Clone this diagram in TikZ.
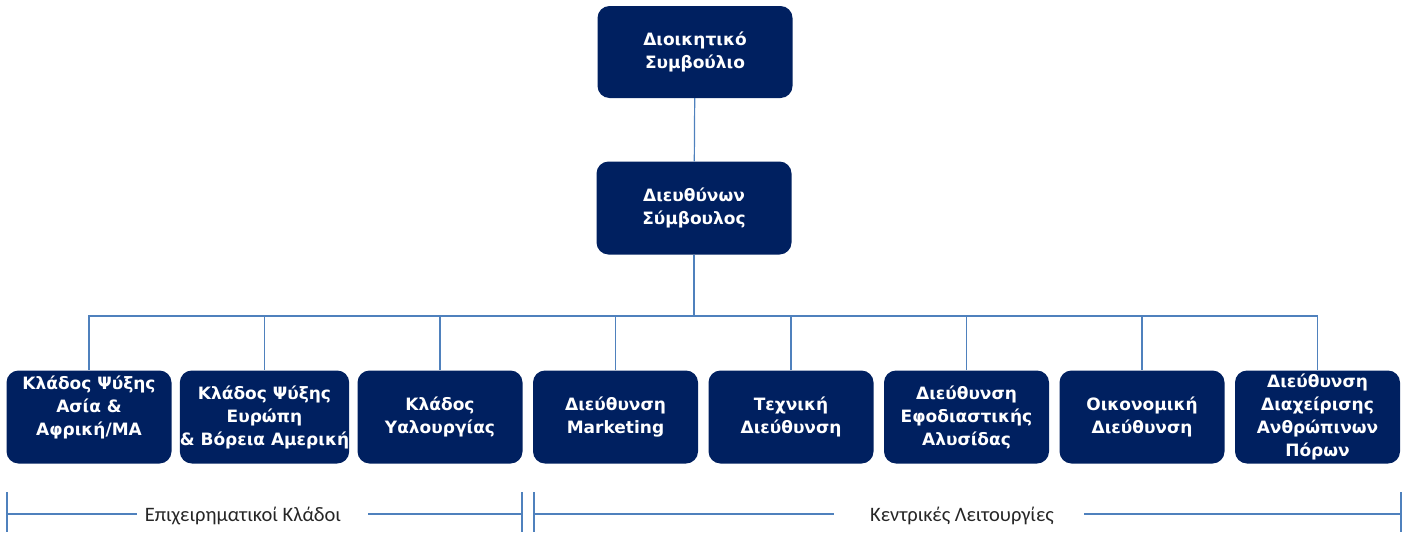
\documentclass[tikz,border=0pt]{standalone}
\usepackage{fontspec}
\setmainfont{DejaVu Sans}
\newfontfamily\calfont{Carlito}
\usetikzlibrary{positioning}
\definecolor{navy}{RGB}{0,32,96}
\definecolor{linkblue}{RGB}{79,129,189}

\begin{document}
\begin{tikzpicture}[x=1pt, y=-1pt, node distance=175.5pt, font=\bfseries\fontsize{17}{23}\selectfont]
  \tikzstyle{block} = [rectangle, rounded corners=12pt, fill=navy, text=white, minimum width=165pt, minimum height=93pt, inner sep=0pt, align=center]
  \tikzstyle{link} = [draw=linkblue, line width=1.2pt]
  \tikzstyle{group} = [font=\calfont\mdseries\fontsize{20.5}{22}\selectfont, text=black!85, inner xsep=8pt]

  \useasboundingbox (0,0) rectangle (1406,533);

  \node [block, minimum width=195pt, minimum height=92pt] (board) at (695,52) {Διοικητικό\\ Συμβούλιο};
  \node [block, minimum width=195pt] (ceo) at (694,208) {Διευθύνων\\ Σύμβουλος};

  \node [block] (b1) at (89,417) {Κλάδος Ψύξης\\ Ασία \&\\ Αφρική/ΜΑ\\ \mbox{}};
  \node [block, right of=b1] (b2) {Κλάδος Ψύξης\\ Ευρώπη\\ \& Βόρεια Αμερική};
  \node [block, right of=b2] (b3) {Κλάδος\\ Υαλουργίας};
  \node [block, right of=b3] (b4) {Διεύθυνση\\ Marketing};
  \node [block, right of=b4] (b5) {Τεχνική\\ Διεύθυνση};
  \node [block, right of=b5] (b6) {Διεύθυνση\\ Εφοδιαστικής\\ Αλυσίδας};
  \node [block, right of=b6] (b7) {Οικονομική\\ Διεύθυνση};
  \node [block, right of=b7] (b8) {Διεύθυνση\\ Διαχείρισης\\ Ανθρώπινων\\ Πόρων};

  \coordinate (bus) at (0,316);
  \draw [link] (board) -- (ceo);
  \foreach \n in {b1,b2,b3,b4,b5,b6,b7,b8}
    \draw [link] (ceo.south) |- (\n.north |- bus) -- (\n.north);

  % groups under the boxes
  \node [group] (biz) at (243,516) {Επιχειρηματικοί Κλάδοι};
  \node [group] (core) at (962,516) {Κεντρικές Λειτουργίες};
  \coordinate (bizL) at (7,514);
  \coordinate (bizR) at (522,514);
  \coordinate (coreL) at (534,514);
  \coordinate (coreR) at (1401,514);
  \draw [link] (bizL) -- (biz.west |- bizL);
  \draw [link, shorten <=19pt] (biz.east |- bizR) -- (bizR);
  \draw [link, shorten >=28pt] (coreL) -- (core.west |- coreL);
  \draw [link, shorten <=22pt] (core.east |- coreR) -- (coreR);
  \foreach \c in {bizL,bizR,coreL,coreR}
    \draw [link] ([yshift=22pt]\c) -- ([yshift=-18pt]\c);
\end{tikzpicture}
\end{document}
